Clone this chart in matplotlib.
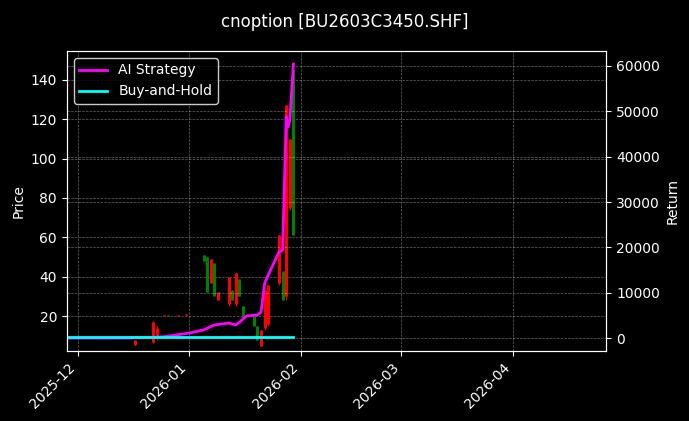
import matplotlib
matplotlib.use("Agg")
import matplotlib.pyplot as plt
import matplotlib.dates as mdates
import pandas as pd

# candle data (date, open, close, high, low)
candle_dates = ["2025-12-17", "2025-12-22", "2025-12-23", "2025-12-25", "2025-12-26",
                "2025-12-29", "2025-12-31", "2026-01-05", "2026-01-06", "2026-01-07",
                "2026-01-08", "2026-01-09", "2026-01-12", "2026-01-13", "2026-01-14",
                "2026-01-15", "2026-01-16", "2026-01-19", "2026-01-20", "2026-01-21",
                "2026-01-22", "2026-01-23", "2026-01-26", "2026-01-27", "2026-01-28",
                "2026-01-29", "2026-01-30"]
opens  = [5.5, 7, 9, 20, 20.5, 20, 20.5, 51, 50, 37, 47, 28, 26, 33, 26, 39, 25, 20, 15, 5, 14, 16, 37, 43, 30, 75, 145]
closes = [8, 17, 14, 20.5, 20, 20.5, 21, 48, 32, 49, 30, 32, 40, 28, 42, 30, 19, 15, 8, 13, 33, 36, 61, 28, 127, 110, 61]
highs  = [8, 17.5, 15, 20.5, 20.5, 20.5, 21, 51, 50, 49, 47, 32, 40, 33, 42, 39, 25, 20, 15, 13, 33, 36, 61, 43, 127, 110, 145]
lows   = [5.3, 6.3, 8, 20, 20, 20, 20.5, 48, 32, 37, 30, 28, 25, 28, 25, 30, 19, 15, 8, 5, 13, 15, 36, 28, 28, 74, 61]

# strategy return curve
ret_dates = ["2025-11-28 00:00", "2025-12-15 00:00", "2025-12-25 00:00", "2026-01-01 00:00",
             "2026-01-05 00:00", "2026-01-08 00:00", "2026-01-10 00:00", "2026-01-12 00:00",
             "2026-01-14 00:00", "2026-01-15 00:00", "2026-01-17 00:00", "2026-01-20 00:00",
             "2026-01-21 00:00", "2026-01-22 00:00", "2026-01-23 00:00", "2026-01-26 00:00",
             "2026-01-27 00:00", "2026-01-28 00:00", "2026-01-28 12:00",
             "2026-01-29 00:00", "2026-01-30 00:00"]
ai_ret = [0, 0, 300, 1100, 1800, 2900, 3100, 3300, 2900, 3500, 4900, 5100, 5700,
          12100, 13900, 19000, 19400, 48800, 46500, 48000, 60400]
bh_dates = ["2025-11-28", "2026-01-30"]
bh_ret = [150, 150]

plt.style.use("dark_background")
fig = plt.figure(figsize=(6.89, 4.21), dpi=100)
ax = fig.add_axes([0.097, 0.166, 0.783, 0.713])
ax2 = ax.twinx()

cd = pd.to_datetime(candle_dates)
for d, o, c, h, l in zip(cd, opens, closes, highs, lows):
    col = "red" if c >= o else "green"
    ax.vlines(d, l, h, color=col, linewidth=0.8)
    ax.vlines(d, min(o, c), max(o, c), color=col, linewidth=2.2)

ax2.plot(pd.to_datetime(ret_dates, format="%Y-%m-%d %H:%M"), ai_ret,
         color="#ff00ff", linewidth=2, label="AI Strategy")
ax2.plot(pd.to_datetime(bh_dates), bh_ret, color="cyan", linewidth=2, label="Buy-and-Hold")

ax.set_ylim(2.2, 154.7)
ax2.set_ylim(-2870, 63300)
ax.set_xlim(pd.Timestamp("2025-11-28"), pd.Timestamp("2026-04-27"))
ax.xaxis.set_major_locator(mdates.MonthLocator())
ax.xaxis.set_major_formatter(mdates.DateFormatter("%Y-%m"))
plt.setp(ax.get_xticklabels(), rotation=45, ha="right")
ax.set_ylabel("Price")
ax2.set_ylabel("Return")
ax.grid(True, linestyle="--", linewidth=0.5, alpha=0.4)
ax2.grid(True, linestyle="--", linewidth=0.5, alpha=0.4)
ax2.legend(loc="upper left", facecolor="black", edgecolor="white")
fig.suptitle("cnoption [BU2603C3450.SHF]", y=0.97)

fig.savefig("out.png", dpi=100, facecolor="black")
